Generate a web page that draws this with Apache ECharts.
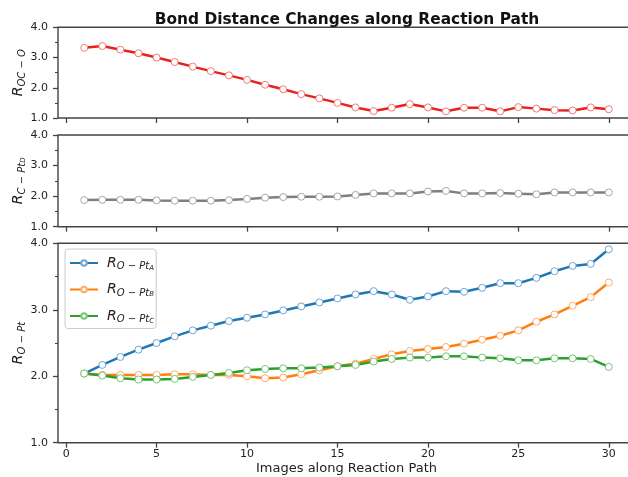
<!DOCTYPE html>
<html>
<head>
<meta charset="utf-8">
<script src="https://cdn.jsdelivr.net/npm/echarts@6/dist/echarts.min.js"></script>
<style>
  html, body { margin: 0; padding: 0; background: #fff; }
  #chart { width: 628px; height: 477px; }
</style>
</head>
<body>
<div id="chart"></div>
<script>
// Image index along the reaction path
const images = [1,2,3,4,5,6,7,8,9,10,11,12,13,14,15,16,17,18,19,20,21,22,23,24,25,26,27,28,29,30];

// Bond distances (Å)
const rOCO = [3.32,3.38,3.26,3.14,3.00,2.85,2.70,2.55,2.41,2.26,2.10,1.95,1.79,1.65,1.50,1.35,1.23,1.34,1.46,1.35,1.22,1.34,1.34,1.22,1.36,1.31,1.26,1.25,1.35,1.29];
const rCPtD = [1.87,1.88,1.88,1.88,1.86,1.85,1.85,1.85,1.87,1.91,1.95,1.97,1.98,1.98,1.99,2.04,2.09,2.09,2.09,2.15,2.17,2.09,2.09,2.10,2.08,2.06,2.12,2.12,2.12,2.12];
const rOPtA = [2.04,2.17,2.29,2.40,2.50,2.60,2.69,2.76,2.83,2.88,2.93,2.99,3.05,3.11,3.17,3.23,3.28,3.23,3.15,3.20,3.28,3.27,3.33,3.40,3.40,3.48,3.58,3.66,3.69,3.91];
const rOPtB = [2.04,2.02,2.02,2.02,2.02,2.03,2.03,2.02,2.02,2.00,1.97,1.98,2.03,2.09,2.15,2.19,2.26,2.33,2.38,2.41,2.44,2.49,2.55,2.61,2.69,2.82,2.93,3.06,3.19,3.41];
const rOPtC = [2.04,2.01,1.97,1.95,1.95,1.96,1.99,2.02,2.05,2.09,2.11,2.12,2.12,2.13,2.15,2.17,2.22,2.26,2.28,2.28,2.30,2.30,2.28,2.27,2.24,2.24,2.27,2.27,2.26,2.14];

// Axis ticks
const xTicks = [0,5,10,15,20,25,30];
const yTicks = ['1.0','2.0','3.0','4.0'];

const FONT = 'DejaVu Sans';
const AXIS_COLOR = '#444444';
const pairs = ys => images.map((x, i) => [x, ys[i]]);

// The plot area runs a little past the right edge of the canvas
const panels = [
  { top: 27.3, height: 90.7 },
  { top: 135, height: 91.7 },
  { top: 243.3, height: 199.4 }
];

const subRich = {
  r: { fontFamily: FONT, fontStyle: 'italic', fontSize: 14, color: '#222' },
  s: { fontFamily: FONT, fontStyle: 'italic', fontSize: 10, color: '#222', verticalAlign: 'bottom', padding: [7, 0, 0, 0] },
  ss: { fontFamily: FONT, fontStyle: 'italic', fontSize: 7, color: '#222', verticalAlign: 'bottom', padding: [10, 0, 0, 0] }
};

function makeX(i, last) {
  return {
    type: 'value', gridIndex: i, min: -0.45, max: 31.45,
    axisLine: { show: false, onZero: false },
    splitLine: { show: false },
    axisTick: { show: true, customValues: xTicks, length: 5, lineStyle: { color: AXIS_COLOR, width: 1.3 } },
    axisLabel: { show: last, customValues: xTicks, fontFamily: FONT, fontSize: 11, color: '#222', margin: 6 },
    name: last ? 'Images along Reaction Path' : '',
    nameLocation: 'middle', nameGap: 19,
    nameTextStyle: { fontFamily: FONT, fontSize: 13, color: '#222' }
  };
}

function makeY(i, name) {
  return {
    type: 'value', gridIndex: i, min: 1, max: 4, interval: 1,
    axisLine: { show: false, onZero: false },
    splitLine: { show: false },
    axisTick: { show: true, length: 5, lineStyle: { color: AXIS_COLOR, width: 1.3 } },
    minorTick: { show: true, splitNumber: 2, length: 3, lineStyle: { color: AXIS_COLOR, width: 1.1 } },
    axisLabel: { fontFamily: FONT, fontSize: 11, color: '#222', margin: 10, formatter: v => yTicks[Math.round(v) - 1] },
    name: name, nameLocation: 'middle', nameRotate: 90, nameGap: 31,
    nameMoveOverlap: false,
    nameTextStyle: { rich: subRich }
  };
}

function lineSeries(name, i, ys, color, edge) {
  return {
    name: name, type: 'line', xAxisIndex: i, yAxisIndex: i,
    data: pairs(ys),
    symbol: 'circle', symbolSize: 7,
    lineStyle: { color: color, width: 2.5 },
    itemStyle: { color: '#ffffff', borderColor: edge, borderWidth: 1 },
    emphasis: { disabled: true },
    z: 3
  };
}

const chart = echarts.init(document.getElementById('chart'), null, { renderer: 'canvas' });
chart.setOption({
  animation: false,
  backgroundColor: '#ffffff',
  title: {
    text: 'Bond Distance Changes along Reaction Path',
    left: 342, top: 7, textAlign: 'center',
    textStyle: { fontFamily: FONT, fontWeight: 'bold', fontSize: 15.4, color: '#111' }
  },
  grid: panels.map(p => ({
    left: 58, width: 577, top: p.top, height: p.height,
    outerBoundsMode: 'none', containLabel: false,
    show: true, borderColor: AXIS_COLOR, borderWidth: 1.4, backgroundColor: 'transparent'
  })),
  xAxis: [makeX(0, false), makeX(1, false), makeX(2, true)],
  yAxis: [
    makeY(0, '{r|R}{s|OC − O}'),
    makeY(1, '{r|R}{s|C − Pt}{ss|D}'),
    makeY(2, '{r|R}{s|O − Pt}')
  ],
  legend: {
    orient: 'vertical', left: 65, top: 249,
    data: ['A', 'B', 'C'],
    itemWidth: 28, itemHeight: 7, itemGap: 11,
    padding: [7, 2, 4, 4],
    borderColor: '#cccccc', borderWidth: 1, borderRadius: 3,
    backgroundColor: 'rgba(255,255,255,0.8)',
    formatter: n => '{r|R}{s|O − Pt}{ss|' + n + '}',
    textStyle: { rich: subRich, padding: [0, 0, 0, 4] }
  },
  series: [
    lineSeries('OCO', 0, rOCO, '#e8211f', '#f27a78'),
    lineSeries('CPtD', 1, rCPtD, '#7f7f7f', '#a8a8a8'),
    lineSeries('A', 2, rOPtA, '#1f77b4', '#6fa6d4'),
    lineSeries('B', 2, rOPtB, '#ff7f0e', '#ffac6b'),
    lineSeries('C', 2, rOPtC, '#2ca02c', '#78c678')
  ]
});
</script>
</body>
</html>
